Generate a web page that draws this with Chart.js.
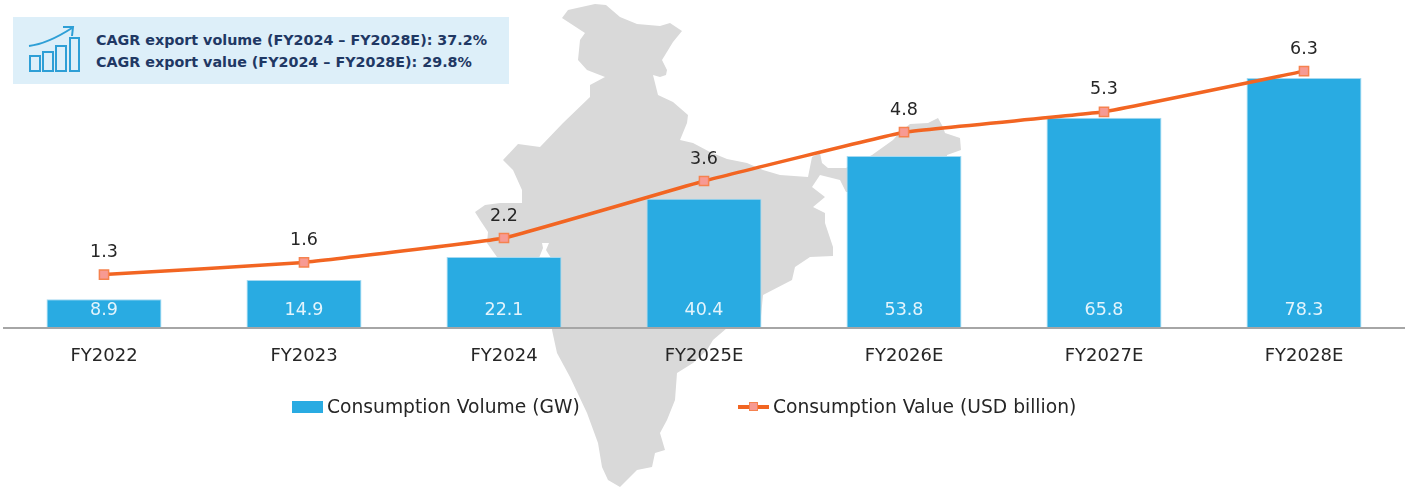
<!DOCTYPE html>
<html>
<head>
<meta charset="utf-8">
<title>Consumption volume and value</title>
<script src="https://cdn.jsdelivr.net/npm/chart.js@4"></script>
<style>
  html, body { margin: 0; background: #fff; }
  #wrap { position: relative; width: 1410px; height: 487px; overflow: hidden; font-family: "DejaVu Sans", sans-serif; }
  #map, #icon { position: absolute; left: 0; top: 0; }
  /* canvas is a bit wider than the page: Chart.js keeps about 8px each side for the tick labels */
  #chart { position: absolute; left: -4px; top: 0; }
  #cagr { position: absolute; left: 13px; top: 17px; width: 496px; height: 67px; background: #ddeff9; }
  #cagr div { position: absolute; left: 83px; color: #1f3864; font: bold 14.3px "DejaVu Sans", sans-serif; white-space: nowrap; }
  #legend span { position: absolute; top: 396px; color: #262626; font-size: 18.7px; line-height: 22px; white-space: nowrap; }
  #legend i { position: absolute; display: block; }
</style>
</head>
<body>
<div id="wrap">
  <svg id="map" width="1410" height="487"><polygon id="india" fill="#d9d9d9"></polygon></svg>
  <div id="cagr"><div id="cagr1" style="top:15px"></div><div id="cagr2" style="top:37px"></div></div>
  <svg id="icon" width="100" height="90" fill="none" stroke="#2e9fd6" stroke-width="2">
    <rect x="30" y="56" width="10" height="15"/><rect x="43" y="52" width="10" height="19"/>
    <rect x="56" y="46" width="10" height="25"/><rect x="70" y="38" width="9" height="33"/>
    <path d="M29 46 C45 44 58 37 72 28 M63 27 L73 27 L72 36"/>
  </svg>
  <canvas id="chart" width="1416" height="487"></canvas>
  <div id="legend">
    <i style="left:292px;top:401px;width:31px;height:12px;background:#29abe2"></i>
    <span id="leg0" style="left:327px"></span>
    <i style="left:738px;top:405px;width:31px;height:4px;background:#f26522"></i>
    <i style="left:749px;top:402px;width:7px;height:7px;background:#f79a93;border:1.5px solid #f5824f"></i>
    <span id="leg1" style="left:773px"></span>
  </div>
</div>
<script>
const categories = ['FY2022', 'FY2023', 'FY2024', 'FY2025E', 'FY2026E', 'FY2027E', 'FY2028E'];
const volume = [8.9, 14.9, 22.1, 40.4, 53.8, 65.8, 78.3];
const value = [1.3, 1.6, 2.2, 3.6, 4.8, 5.3, 6.3];
const volumeLabel = 'Consumption Volume (GW)';
const valueLabel = 'Consumption Value (USD billion)';
const cagrLines = ['CAGR export volume (FY2024 – FY2028E): 37.2%', 'CAGR export value (FY2024 – FY2028E): 29.8%'];

// map silhouette behind the chart, traced by eye
const indiaOutline = '595,4 606,5 620,17 637,24 660,26 670,23 682,31 673,42 662,60 667,70 666,75 660,77 653,75 658,95 673,102 688,115 687,123 680,140 693,143 710,152 727,159 747,163 763,170 780,175 808,177 812,157 820,153 822,163 828,168 846,168 872,155 893,140 900,132 910,124 928,123 938,118 943,127 945,133 960,138 961,150 947,155 947,190 846,192 840,180 820,175 812,187 825,197 813,207 825,213 825,223 833,247 833,256 810,257 795,267 792,280 763,295 760,327 727,328 713,340 707,350 693,363 677,373 675,400 667,420 660,433 665,450 655,453 652,467 637,470 620,487 608,480 602,467 598,443 587,413 570,377 557,353 552,330 551,258 546,250 549,243 542,243 543,248 539,258 497,257 487,243 488,232 480,220 475,212 485,205 500,203 522,203 522,190 513,170 503,160 518,144 540,147 563,123 590,97 590,85 605,77 587,70 578,60 580,40 585,33 562,18 568,10';

document.getElementById('india').setAttribute('points', indiaOutline);
document.getElementById('cagr1').textContent = cagrLines[0];
document.getElementById('cagr2').textContent = cagrLines[1];
document.getElementById('leg0').textContent = volumeLabel;
document.getElementById('leg1').textContent = valueLabel;

const fontFamily = '"DejaVu Sans", sans-serif';

// no datalabels plugin here, so the numbers are drawn after the datasets
const valueLabels = {
    id: 'valueLabels',
    afterDatasetsDraw(chart) {
        const ctx = chart.ctx;
        ctx.save();
        ctx.textAlign = 'center';
        ctx.textBaseline = 'middle';
        ctx.font = '17.5px ' + fontFamily;
        chart.getDatasetMeta(0).data.forEach((bar, i) => {
            ctx.fillStyle = '#e3f4fc';
            ctx.fillText(volume[i].toFixed(1), bar.x, bar.base - 17);
        });
        chart.getDatasetMeta(1).data.forEach((pt, i) => {
            ctx.fillStyle = '#262626';
            ctx.fillText(value[i].toFixed(1), pt.x, pt.y - 22);
        });
        ctx.restore();
    }
};

new Chart(document.getElementById('chart'), {
    type: 'bar',
    data: {
        labels: categories,
        datasets: [
            {
                label: volumeLabel,
                data: volume,
                yAxisID: 'y',
                order: 2,
                backgroundColor: '#29abe2',
                borderColor: '#a5d9f1',
                borderWidth: 1,
                barPercentage: 0.575,
                categoryPercentage: 1
            },
            {
                type: 'line',
                label: valueLabel,
                data: value,
                yAxisID: 'y2',
                order: 1,
                borderColor: '#f26522',
                borderWidth: 3.5,
                tension: 0.08,
                pointStyle: 'rect',
                pointRadius: 6.5,
                pointBackgroundColor: '#f79a93',
                pointBorderColor: '#f5824f',
                pointBorderWidth: 1.5
            }
        ]
    },
    options: {
        responsive: false,
        animation: false,
        layout: { padding: { left: 0, right: 0, top: 8.9, bottom: 0 } },
        plugins: { legend: { display: false }, tooltip: { enabled: false } },
        scales: {
            x: {
                grid: { display: false, drawTicks: false },
                border: { color: '#a6a6a6', width: 2, z: 1 },
                afterFit(scale) { scale.height = 159.5; },
                ticks: { color: '#262626', padding: 18, maxRotation: 0, font: { family: fontFamily, size: 18 } }
            },
            y: { display: false, min: 0, max: 100 },
            y2: { display: false, min: 0, max: 7.83 }
        }
    },
    plugins: [valueLabels]
});
</script>
</body>
</html>
